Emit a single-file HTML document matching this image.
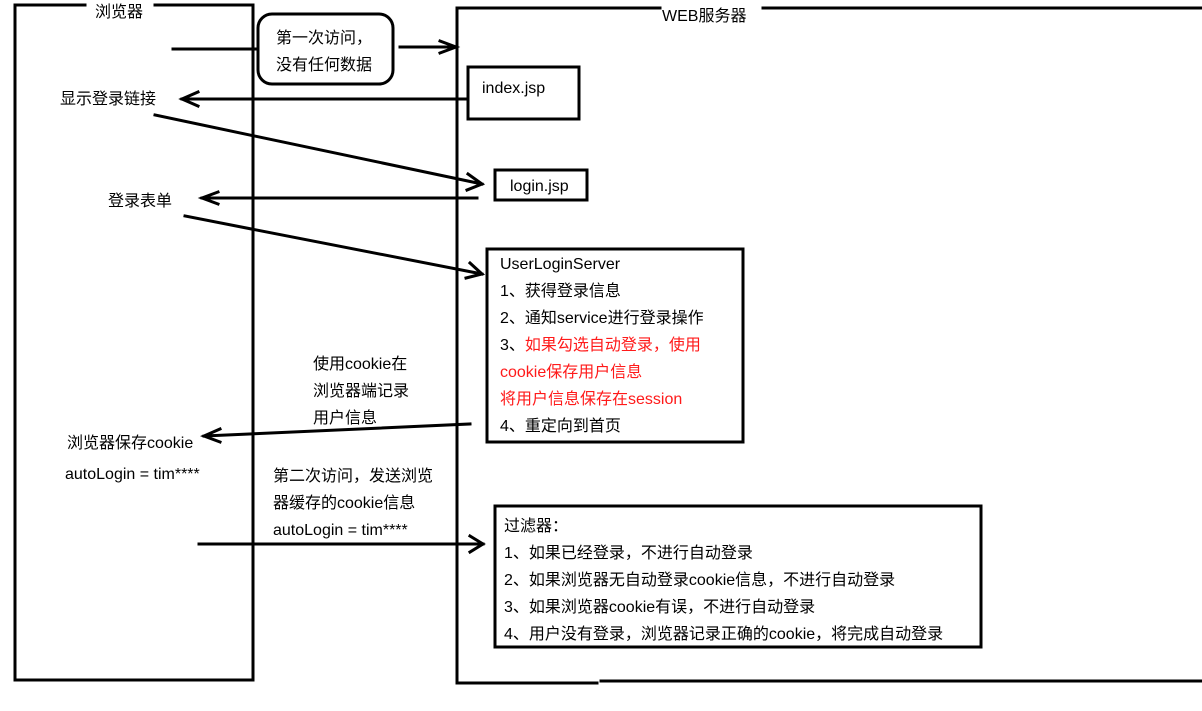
<!DOCTYPE html>
<html><head><meta charset="utf-8"><style>
html,body{margin:0;padding:0;background:#fff;}
svg text{font-family:"Liberation Sans","Noto Sans CJK SC",sans-serif;font-size:16px;fill:#000;}
</style></head><body>
<svg width="1202" height="706" viewBox="0 0 1202 706" xmlns="http://www.w3.org/2000/svg">
<g stroke="#000" stroke-width="3" fill="none" stroke-linecap="square">
<path d="M85,5 L15,5 L15,680 L253,680 L253,5 L155,5"/>
<path d="M660,8 L457,8 L457,683 L597,683"/>
<path d="M763,8 L1202,8"/>
<path d="M601,681 L1202,681"/>
<rect x="258" y="14" width="135" height="70" rx="14"/>
<rect x="468" y="67" width="111" height="52"/>
<rect x="495" y="170" width="92" height="30"/>
<rect x="487" y="249" width="256" height="193"/>
<rect x="495" y="506" width="486" height="141"/>
<path d="M173,49 L257,49"/>
<path d="M400,47 L456,47 M440,41 L456,47 L440,53"/>
<path d="M468,99 L182,99 M198,92 L182,99 L198,106"/>
<path d="M155,115 L482,184 M468,174 L482,184 L467,190"/>
<path d="M477,198 L202,198 M218,192 L202,198 L218,204"/>
<path d="M185,216 L482,274 M470,263 L482,274 L466,278"/>
<path d="M470,424 L204,436 M220,429 L204,436 L220,442"/>
<path d="M199,544 L483,544 M470,536 L483,544 L470,552"/>
</g>
<text x="95" y="17">浏览器</text>
<text x="662" y="21">WEB服务器</text>
<text x="276" y="43">第一次访问，</text>
<text x="276" y="70">没有任何数据</text>
<text x="482" y="93">index.jsp</text>
<text x="60" y="104">显示登录链接</text>
<text x="510" y="191">login.jsp</text>
<text x="108" y="206">登录表单</text>
<text x="500" y="269">UserLoginServer</text>
<text x="500" y="296">1、获得登录信息</text>
<text x="500" y="323">2、通知service进行登录操作</text>
<text x="500" y="350">3、<tspan style="fill:#ff1a1a">如果勾选自动登录，使用</tspan></text>
<text x="500" y="377" style="fill:#ff1a1a">cookie保存用户信息</text>
<text x="500" y="404" style="fill:#ff1a1a">将用户信息保存在session</text>
<text x="500" y="431">4、重定向到首页</text>
<text x="313" y="369">使用cookie在</text>
<text x="313" y="396">浏览器端记录</text>
<text x="313" y="423">用户信息</text>
<text x="67" y="448">浏览器保存cookie</text>
<text x="65" y="479">autoLogin = tim****</text>
<text x="273" y="481">第二次访问，发送浏览</text>
<text x="273" y="508">器缓存的cookie信息</text>
<text x="273" y="535">autoLogin = tim****</text>
<text x="504" y="531">过滤器：</text>
<text x="504" y="558">1、如果已经登录，不进行自动登录</text>
<text x="504" y="585">2、如果浏览器无自动登录cookie信息，不进行自动登录</text>
<text x="504" y="612">3、如果浏览器cookie有误，不进行自动登录</text>
<text x="504" y="639">4、用户没有登录，浏览器记录正确的cookie，将完成自动登录</text>
</svg>
</body></html>
